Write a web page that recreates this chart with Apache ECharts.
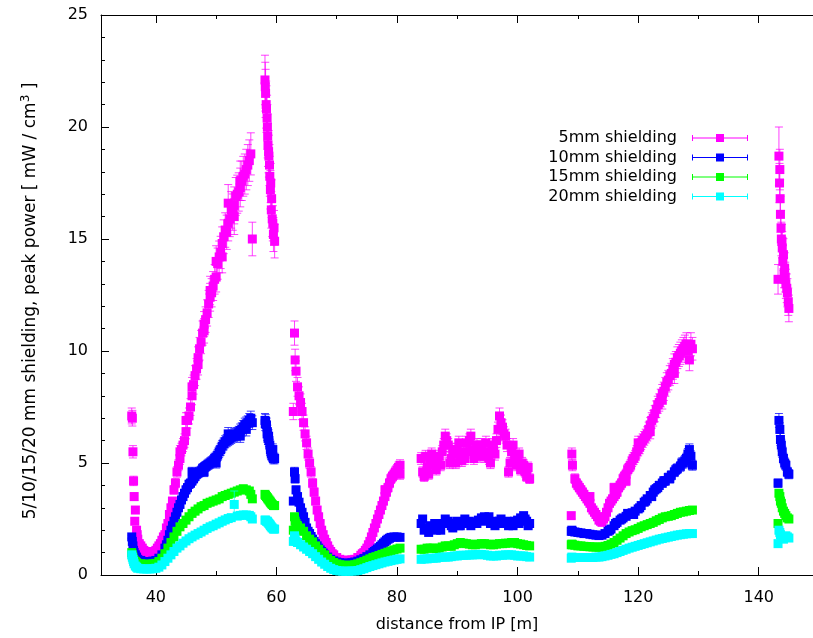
<!DOCTYPE html>
<html>
<head>
<meta charset="utf-8">
<script src="https://cdn.jsdelivr.net/npm/echarts@6/dist/echarts.min.js"></script>
<style>html,body{margin:0;padding:0;background:#fff}#c{width:813px;height:638px}</style>
</head>
<body>
<div id="c"></div>
<script>
// ---- data ----
const seriesNames = ['5mm shielding', '10mm shielding', '15mm shielding', '20mm shielding'];
const xTickLabels = [40, 60, 80, 100, 120, 140];
const xMinorTicks = [50, 70, 90, 110, 130];

// x positions [m], one array per measured stretch
const seg1X = [36.0,36.1,36.2,36.3,36.4,36.6,36.8,
  37,37.5,38,38.5,39,39.5,40,40.5,41,41.5,
  42,42.5,43,43.5,44,44.5,45,45.5,46,46.5,
  47,47.5,48,48.5,49,49.5,50,50.5,51,51.5,
  52,52.5,53,53.5,54,54.5,55,55.5,55.75,56];
const seg2X = [58.1,58.2,58.35,58.5,58.6,58.75,58.9,59.0,59.15,59.3,59.5,59.7];
const seg3X = [62.8,63.0,63.1,63.25,63.5,
  64,64.5,65,65.5,66,66.5,67,67.5,68,68.5,
  69,69.5,70,70.5,71,71.5,72,72.5,73,73.5,
  74,74.5,75,75.5,76,76.5,77,77.5,78,78.5,
  79,79.5,80,80.5];
const seg4X = [84,84.5,85,85.5,86,86.5,87,87.5,88,88.5,
  89,89.5,90,90.5,91,91.5,92,92.5,93,93.5,
  94,94.5,95,95.5,96,96.5,97,97.5,98,98.5,
  99,99.5,100,100.5,101,101.5,102];
const seg5X = [108.9,109.0,109.1,109.5,
  110,110.5,111,111.5,112,112.5,113,113.5,114,114.5,
  115,115.5,116,116.5,117,117.5,118,118.5,119,119.5,
  120,120.5,121,121.5,122,122.5,123,123.5,124,124.5,
  125,125.5,126,126.5,127,127.5,128,128.5,129];
const seg6X = [143.2,143.35,143.5,143.6,143.75,143.9,144.1,144.3,144.5,144.75,145.0];

// 5 mm shielding, peak power [mW/cm3]
const mm5_seg1 = [7.1,7.0,5.5,4.2,3.5,2.9,2.0,
  1.6,1.3,1.1,1.0,1.0,1.05,1.1,1.3,1.55,1.8,
  2.3,3.0,3.8,4.6,5.2,5.8,6.4,7.1,8.0,8.9,
  9.7,10.4,11.2,11.7,12.4,12.9,13.3,14.2,14.8,15.4,
  15.7,16.3,16.5,17.0,17.3,17.8,18.1,18.5,18.8,15.0];
const mm5_seg2 = [22.1,21.5,20.8,20.0,19.2,18.7,17.8,17.2,16.3,15.9,15.2,14.9];
const mm5_seg3 = [7.3,10.8,9.6,9.1,8.4,
  7.7,6.8,5.9,5.0,4.1,3.3,2.6,2.0,1.6,1.3,
  1.05,0.9,0.78,0.7,0.66,0.65,0.66,0.68,0.7,0.78,
  0.88,1.0,1.2,1.5,1.9,2.3,2.7,3.1,3.5,3.9,
  4.3,4.5,4.7,4.9];
const mm5_seg4 = [5.2,4.4,4.8,5.0,5.1,4.7,5.3,5.5,6.2,5.8,
  5.2,5.4,5.6,5.3,5.5,5.9,6.0,5.6,5.4,5.7,
  5.8,5.3,5.5,5.0,5.6,6.0,7.1,6.6,6.2,4.6,
  5.5,5.3,5.1,4.7,4.9,4.4,4.3];
const mm5_seg5 = [2.65,5.4,4.9,4.3,
  4.0,3.8,3.6,3.4,3.2,2.9,2.7,2.45,2.35,2.6,
  3.0,3.3,3.5,3.7,4.0,4.3,4.5,4.8,5.1,5.3,
  5.6,5.9,6.1,6.3,6.7,7.0,7.4,7.7,8.1,8.4,
  8.7,9.0,9.4,9.7,9.9,10.1,10.3,9.6,10.1];
const mm5_seg6 = [13.2,18.7,18.1,16.1,15.0,14.6,14.3,13.7,13.0,12.6,11.9];
// further 5 mm points read in between (the dense, scattered band)
const mm5_extraX = [36.5,36.9,37.25,37.75,38.25,38.75,39.25,39.75,40.25,40.75,41.25,
  41.75,42.25,42.75,43.25,43.75,44.25,44.75,45.25,45.75,46.25,46.75,47.25,47.75,48.25,48.75,
  49.25,49.75,50.25,50.75,51.25,51.75,52.25,52.75,53.25,53.75,54.25,54.75,55.25,
  44,45,46,47,48,49,50,51,52,53,54,
  58.15,58.3,58.45,58.55,58.7,58.85,59.05,59.2,59.4,59.6,
  63.75,64.25,64.75,65.25,65.75,66.25,66.75,67.25,67.75,68.25,68.75,69.25,
  74.25,74.75,75.25,75.75,76.25,76.75,77.25,77.75,78.25,78.75,79.25,79.75,80.25,80.5,78,
  84.25,84.75,85.25,85.75,86.25,86.75,87.25,87.75,88.25,88.75,89.25,89.75,90.25,90.75,
  91.25,91.75,92.25,92.75,93.25,93.75,94.25,94.75,95.25,95.75,96.25,96.75,97.25,97.75,
  98.25,98.75,99.25,99.75,100.25,100.75,101.25,101.75,
  109.75,110.25,110.75,111.25,111.75,112.25,112.75,113.25,113.75,114.25,114.75,115.25,
  115.75,116.25,116.75,117.25,117.75,118.25,118.75,119.25,119.75,120.25,120.75,121.25,
  121.75,122.25,122.75,123.25,123.75,124.25,124.75,125.25,125.75,126.25,126.75,127.25,
  127.75,128.25,128.75,112,116,118,120,122,124,126,
  143.45,143.55,143.7,143.85,144.0,144.2,144.4,144.65,144.9];
const mm5_extraY = [2.4,1.8,1.4,1.2,1.05,1.0,1.0,1.05,1.2,1.4,1.7,
  2.1,2.7,3.3,4.1,4.9,5.6,6.0,6.9,7.5,8.5,9.2,10.1,10.8,11.4,12.1,
  12.6,13.2,13.9,14.4,15.1,15.3,15.9,16.2,16.9,17.1,17.6,17.9,18.3,
  5.5,6.9,8.4,9.4,10.9,12.7,14.0,14.2,16.6,16.0,17.6,
  21.8,21.0,20.4,19.6,18.9,18.3,17.5,16.8,15.7,15.5,
  8.0,7.3,6.3,5.4,4.6,3.7,2.9,2.3,1.8,1.45,1.15,0.95,
  0.95,1.1,1.35,1.7,2.1,2.5,2.9,3.3,3.7,4.1,4.4,4.6,4.8,4.5,3.8,
  4.6,5.3,4.5,5.4,4.9,5.2,4.9,5.8,6.0,5.0,5.6,5.0,5.9,5.1,
  5.2,5.5,6.2,5.2,5.8,5.3,5.5,5.9,5.2,5.8,5.4,6.5,6.8,6.3,
  5.8,5.0,5.8,4.9,5.4,5.0,4.6,4.8,
  4.1,3.9,3.7,3.5,3.3,3.0,2.8,2.6,2.4,2.5,2.8,3.2,
  3.4,3.6,3.9,4.1,4.4,4.7,4.9,5.2,5.5,5.7,6.0,6.2,
  6.5,6.9,7.2,7.6,7.9,8.2,8.6,8.9,9.2,9.5,9.8,10.0,
  10.2,10.0,10.3,3.5,3.9,4.2,5.9,6.4,7.8,9.0,
  17.5,16.8,15.5,14.9,14.0,13.5,13.3,12.8,12.2];

// 10 mm shielding
const mm10_seg1 = [1.7,1.5,1.3,1.1,1.0,0.9,0.8,
  0.7,0.65,0.6,0.6,0.6,0.62,0.65,0.75,0.9,1.2,
  1.55,2.0,2.4,2.8,3.15,3.5,3.8,4.05,4.2,4.4,
  4.55,4.65,4.8,4.9,5.0,5.1,5.25,5.5,5.75,5.95,
  6.05,6.15,6.25,6.3,6.45,6.6,6.75,6.9,7.0,6.8];
const mm10_seg2 = [6.9,6.85,6.7,6.4,6.1,6.0,5.8,5.6,5.4,5.3,5.2,5.2];
const mm10_seg3 = [3.3,4.6,4.3,3.8,3.5,
  3.0,2.6,2.1,1.85,1.6,1.4,1.2,1.05,0.92,0.8,
  0.7,0.63,0.58,0.55,0.53,0.52,0.53,0.55,0.58,0.62,
  0.68,0.74,0.82,0.9,1.0,1.1,1.22,1.35,1.48,1.6,
  1.68,1.7,1.7,1.68];
const mm10_seg4 = [2.3,2.0,2.1,2.2,2.1,2.0,2.1,2.3,2.5,2.4,
  2.2,2.3,2.4,2.2,2.3,2.35,2.4,2.3,2.35,2.45,
  2.55,2.6,2.45,2.3,2.4,2.35,2.4,2.3,2.35,2.2,
  2.35,2.4,2.45,2.55,2.65,2.4,2.3];
const mm10_seg5 = [1.95,2.0,1.95,1.92,
  1.9,1.88,1.85,1.85,1.82,1.8,1.78,1.76,1.78,1.85,
  1.95,2.05,2.2,2.35,2.45,2.55,2.62,2.7,2.78,2.85,
  2.95,3.1,3.25,3.4,3.55,3.7,3.85,4.0,4.1,4.2,
  4.35,4.45,4.6,4.75,4.85,5.0,5.2,5.6,4.9];
const mm10_seg6 = [4.1,6.9,6.5,6.05,5.8,5.5,5.2,5.0,4.9,4.6,4.5];
const mm10_extraX = [41.75,42.25,42.75,43.25,43.75,44.25,44.75,45.25,45.75,46.25,46.75,
  47.25,47.75,48.25,48.75,49.25,49.75,50.25,50.75,51.25,51.75,52.25,52.75,53.25,53.75,
  54.25,54.75,55.25,46,48,50,52,54,55,
  58.15,58.45,58.7,59.1,59.4,
  63.75,64.25,64.75,65.25,65.75,66.25,66.75,67.25,67.75,
  76.25,76.75,77.25,77.75,78.25,78.75,
  84.25,85.25,86.25,87.25,88.25,89.25,90.25,91.25,92.25,93.25,94.25,95.25,96.25,97.25,
  98.25,99.25,100.25,101.25,101.75,
  115.25,116.25,117.25,118.25,119.25,120.25,121.25,122.25,122.75,123.25,124.25,125.25,
  126.25,127.25,127.75,128.25,128.75];
const mm10_extraY = [1.35,1.8,2.2,2.6,3.0,3.35,3.65,3.9,4.1,4.3,4.5,
  4.6,4.75,4.85,4.95,5.05,5.2,5.35,5.6,5.85,6.0,6.1,6.2,6.28,6.35,
  6.5,6.7,6.8,4.6,4.6,5.0,6.3,6.2,6.5,
  6.75,6.3,6.2,5.5,5.6,
  3.25,2.8,2.35,1.95,1.72,1.5,1.3,1.12,0.98,
  1.05,1.16,1.28,1.42,1.55,1.64,
  2.5,1.9,2.3,2.0,2.3,2.1,2.2,2.5,2.2,2.3,2.4,2.6,2.2,2.5,
  2.4,2.2,2.3,2.5,2.2,
  2.0,2.3,2.5,2.75,2.7,3.0,3.3,3.5,3.8,3.9,4.2,4.3,
  4.7,5.0,5.1,5.4,5.3];

// 15 mm shielding
const mm15_seg1 = [1.0,0.9,0.8,0.7,0.65,0.6,0.55,
  0.5,0.5,0.48,0.48,0.48,0.5,0.52,0.6,0.75,0.95,
  1.2,1.45,1.7,1.95,2.15,2.3,2.45,2.6,2.75,2.85,
  2.95,3.05,3.1,3.2,3.25,3.3,3.35,3.4,3.5,3.55,
  3.6,3.65,3.7,3.75,3.8,3.85,3.8,3.75,3.6,3.4];
const mm15_seg2 = [3.6,3.55,3.5,3.45,3.4,3.35,3.3,3.25,3.2,3.15,3.1,3.1];
const mm15_seg3 = [2.0,2.6,2.4,2.3,2.2,
  2.1,1.95,1.75,1.6,1.48,1.3,1.15,1.0,0.9,0.75,
  0.65,0.56,0.5,0.46,0.44,0.43,0.43,0.44,0.46,0.5,
  0.55,0.6,0.66,0.72,0.78,0.82,0.87,0.92,0.97,1.02,
  1.07,1.12,1.16,1.2];
const mm15_seg4 = [1.15,1.15,1.2,1.2,1.2,1.18,1.2,1.25,1.3,1.3,
  1.28,1.35,1.4,1.45,1.42,1.4,1.38,1.35,1.35,1.38,
  1.4,1.4,1.38,1.35,1.35,1.38,1.4,1.4,1.42,1.42,
  1.45,1.45,1.4,1.38,1.35,1.32,1.3];
const mm15_seg5 = [1.35,1.38,1.35,1.33,
  1.3,1.3,1.28,1.27,1.26,1.25,1.25,1.24,1.25,1.28,
  1.32,1.38,1.45,1.55,1.65,1.75,1.85,1.92,1.98,2.02,
  2.08,2.15,2.2,2.25,2.3,2.35,2.42,2.48,2.55,2.6,
  2.62,2.65,2.7,2.75,2.8,2.82,2.85,2.88,2.9];
const mm15_seg6 = [2.3,3.65,3.5,3.3,3.2,3.0,2.85,2.75,2.65,2.55,2.5];

// 20 mm shielding
const mm20_seg1 = [0.9,0.8,0.7,0.6,0.5,0.4,0.35,
  0.3,0.28,0.27,0.27,0.27,0.28,0.3,0.35,0.45,0.6,
  0.75,0.9,1.05,1.2,1.3,1.42,1.52,1.62,1.7,1.78,
  1.85,1.92,2.0,2.08,2.15,2.2,2.27,2.33,2.4,2.46,
  2.52,2.56,3.15,2.63,2.66,2.68,2.68,2.66,2.6,2.5];
const mm20_seg2 = [2.45,2.45,2.4,2.4,2.35,2.3,2.25,2.2,2.15,2.1,2.05,2.05];
const mm20_seg3 = [1.5,1.75,1.6,1.5,1.45,
  1.35,1.25,1.15,1.05,0.95,0.82,0.7,0.58,0.48,0.38,
  0.3,0.24,0.2,0.18,0.17,0.17,0.17,0.18,0.18,0.2,
  0.24,0.28,0.33,0.38,0.42,0.46,0.5,0.54,0.58,0.61,
  0.64,0.67,0.7,0.72];
const mm20_seg4 = [0.7,0.72,0.72,0.75,0.75,0.75,0.78,0.8,0.8,0.8,
  0.82,0.85,0.85,0.88,0.88,0.88,0.9,0.9,0.9,0.92,
  0.92,0.9,0.88,0.85,0.85,0.85,0.88,0.88,0.9,0.9,
  0.9,0.88,0.85,0.85,0.85,0.82,0.8];
const mm20_seg5 = [0.75,0.8,0.78,0.78,
  0.78,0.78,0.78,0.78,0.78,0.78,0.8,0.8,0.82,0.85,
  0.88,0.92,0.95,1.0,1.05,1.1,1.15,1.2,1.24,1.28,
  1.32,1.36,1.4,1.44,1.48,1.52,1.56,1.6,1.63,1.66,
  1.69,1.72,1.75,1.78,1.8,1.82,1.84,1.85,1.85];
const mm20_seg6 = [1.4,2.0,1.9,1.8,1.7,1.65,1.6,1.7,1.75,1.7,1.65];

// relative error-bar size per series, plus the few bars read individually
const relErr = [0.05, 0.045, 0.04, 0.04];
const errOverrides = [
  {series: 0, x: 143.35, err: 1.3},
  {series: 3, x: 53, err: 0.6}
];

// ---- build ----
const segXs = [seg1X, seg2X, seg3X, seg4X, seg5X, seg6X];
const seriesSegs = [
  [mm5_seg1, mm5_seg2, mm5_seg3, mm5_seg4, mm5_seg5, mm5_seg6],
  [mm10_seg1, mm10_seg2, mm10_seg3, mm10_seg4, mm10_seg5, mm10_seg6],
  [mm15_seg1, mm15_seg2, mm15_seg3, mm15_seg4, mm15_seg5, mm15_seg6],
  [mm20_seg1, mm20_seg2, mm20_seg3, mm20_seg4, mm20_seg5, mm20_seg6]
];
const seriesExtras = [[mm5_extraX, mm5_extraY], [mm10_extraX, mm10_extraY], null, null];
const colors = ['#ff00ff', '#0000ff', '#00ff00', '#00ffff'];

function buildData(si) {
  const xs = [], ys = [];
  seriesSegs[si].forEach((vals, k) => {
    const sx = segXs[k];
    if (sx.length !== vals.length) console.error('length mismatch', si, k, sx.length, vals.length);
    for (let i = 0; i < sx.length; i++) { xs.push(sx[i]); ys.push(vals[i]); }
  });
  const ex = seriesExtras[si];
  if (ex) {
    if (ex[0].length !== ex[1].length) console.error('extra mismatch', si, ex[0].length, ex[1].length);
    for (let i = 0; i < ex[0].length; i++) { xs.push(ex[0][i]); ys.push(ex[1][i]); }
  }
  const order = xs.map((_, i) => i).sort((a, b) => xs[a] - xs[b]);
  return order.map(i => {
    let e = ys[i] * relErr[si];
    errOverrides.forEach(o => { if (o.series === si && o.x === xs[i]) e = o.err; });
    return [xs[i], ys[i], e];
  });
}

const FONT = 'DejaVu Sans';
const SQ = 9;
const CAP = 4;

function makeRender(color) {
  return function (params, api) {
    const x = api.value(0), y = api.value(1), e = api.value(2);
    const p = api.coord([x, y]);
    const t = api.coord([x, y + e]);
    const b = api.coord([x, y - e]);
    const ls = {stroke: color, lineWidth: 1, opacity: 0.75};
    return {
      type: 'group',
      children: [
        {type: 'line', shape: {x1: p[0], y1: t[1], x2: p[0], y2: b[1]}, style: ls},
        {type: 'line', shape: {x1: p[0] - CAP, y1: t[1], x2: p[0] + CAP, y2: t[1]}, style: ls},
        {type: 'line', shape: {x1: p[0] - CAP, y1: b[1], x2: p[0] + CAP, y2: b[1]}, style: ls},
        {type: 'rect', shape: {x: p[0] - SQ / 2, y: p[1] - SQ / 2, width: SQ, height: SQ}, style: {fill: color}}
      ]
    };
  };
}

const legendIcon = 'path://M0,3.5H56V4.5H0Z M0,1H1V7H0Z M55,1H56V7H55Z M24,0H32V8H24Z';

const series = seriesNames.map((name, si) => ({
  name: name,
  type: 'custom',
  renderItem: makeRender(colors[si]),
  itemStyle: {color: colors[si]},
  encode: {x: 0, y: 1},
  data: buildData(si),
  clip: false,
  animation: false
}));

const axisLineStyle = {color: '#000', width: 1};
const XMIN = 30.9, XMAX = 149;

const option = {
  animation: false,
  backgroundColor: '#fff',
  grid: {left: 101, right: 0, top: 15, bottom: 60, containLabel: false},
  legend: {
    orient: 'vertical',
    align: 'right',
    right: 65,
    top: 130,
    padding: 0,
    itemGap: 3.5,
    itemWidth: 56,
    itemHeight: 8,
    icon: legendIcon,
    textStyle: {fontFamily: FONT, fontSize: 16, color: '#000', padding: [0, 10, 0, 0]},
    data: seriesNames
  },
  xAxis: [
    {
      type: 'value', position: 'bottom', min: XMIN, max: XMAX,
      name: 'distance from IP [m]', nameLocation: 'middle', nameGap: 42,
      nameTextStyle: {fontFamily: FONT, fontSize: 16, color: '#000'},
      axisLine: {show: true, onZero: false, lineStyle: axisLineStyle},
      axisTick: {show: true, inside: true, length: 8, customValues: xTickLabels, lineStyle: axisLineStyle},
      axisLabel: {show: true, customValues: xTickLabels, fontFamily: FONT, fontSize: 16, color: '#000', margin: 15},
      splitLine: {show: false}
    },
    {
      type: 'value', position: 'bottom', min: XMIN, max: XMAX,
      axisLine: {show: false, onZero: false},
      axisTick: {show: true, inside: true, length: 4, customValues: xMinorTicks, lineStyle: axisLineStyle},
      axisLabel: {show: false},
      splitLine: {show: false}
    },
    {
      type: 'value', position: 'top', min: XMIN, max: XMAX,
      axisLine: {show: true, onZero: false, lineStyle: axisLineStyle},
      axisTick: {show: true, inside: true, length: 8, customValues: xTickLabels, lineStyle: axisLineStyle},
      axisLabel: {show: false},
      splitLine: {show: false}
    },
    {
      type: 'value', position: 'top', min: XMIN, max: XMAX,
      axisLine: {show: false, onZero: false},
      axisTick: {show: true, inside: true, length: 4, customValues: xMinorTicks, lineStyle: axisLineStyle},
      axisLabel: {show: false},
      splitLine: {show: false}
    }
  ],
  yAxis: [
    {
      type: 'value', position: 'left', min: 0, max: 25, interval: 5,
      name: '5/10/15/20 mm shielding, peak power [ mW / cm{sup|3} ]',
      nameLocation: 'middle', nameGap: 59, nameRotate: 90,
      nameTextStyle: {fontFamily: FONT, fontSize: 17, color: '#000', lineHeight: 22, padding: [0, 12, 0, 0],
        rich: {sup: {fontFamily: FONT, fontSize: 12, lineHeight: 12, verticalAlign: 'top', color: '#000'}}},
      axisLine: {show: true, onZero: false, lineStyle: axisLineStyle},
      axisTick: {show: true, inside: true, length: 8, lineStyle: axisLineStyle},
      minorTick: {show: true, splitNumber: 5, length: 4, lineStyle: axisLineStyle},
      axisLabel: {fontFamily: FONT, fontSize: 16, color: '#000', margin: 13},
      splitLine: {show: false},
      minorSplitLine: {show: false}
    }
  ],
  series: series
};

const chart = echarts.init(document.getElementById('c'), null, {renderer: 'canvas'});
chart.setOption(option);
</script>
</body>
</html>
